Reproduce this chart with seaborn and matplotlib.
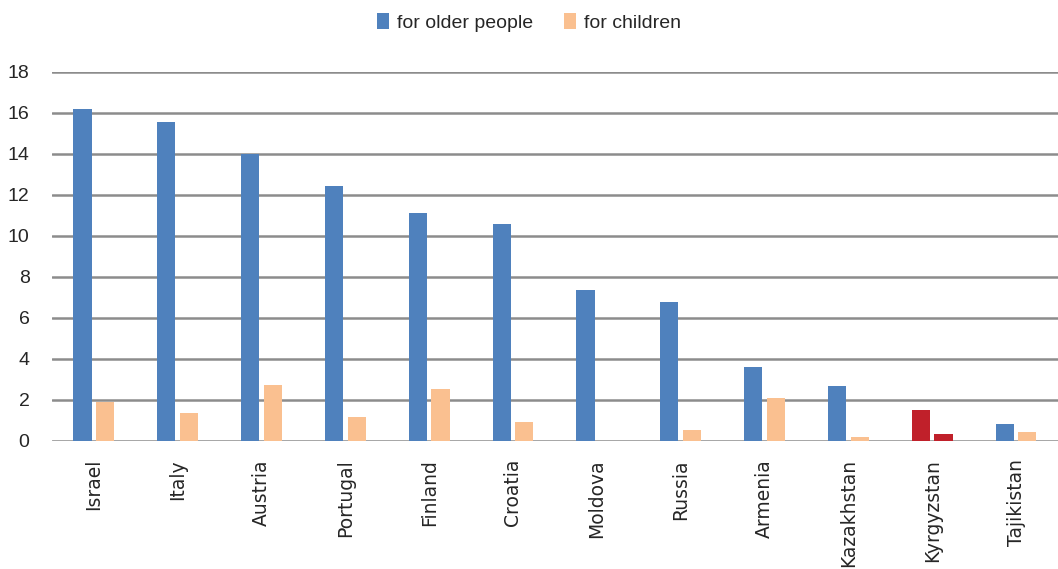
import pandas as pd
import numpy as np
from matplotlib import pyplot as plt
import seaborn as sns

countries = ["Israel", "Italy", "Austria", "Portugal", "Finland", "Croatia",
             "Moldova", "Russia", "Armenia", "Kazakhstan", "Kyrgyzstan", "Tajikistan"]
older_people = [16.2, 15.56, 14.0, 12.45, 11.11, 10.58, 7.37, 6.78, 3.62, 2.67, 1.5, 0.83]
children = [1.89, 1.35, 2.72, 1.16, 2.53, 0.95, np.nan, 0.52, 2.1, 0.18, 0.33, 0.42]
series_names = ["for older people", "for children"]
highlight = "Kyrgyzstan"

df = pd.DataFrame({
    "country": countries * 2,
    "series": [series_names[0]] * len(countries) + [series_names[1]] * len(countries),
    "value": older_people + children,
})

sns.set_style("white")
plt.rcParams['font.family'] = ['Liberation Sans', 'DejaVu Sans']

fig = plt.figure(figsize=(10.58, 5.69), dpi=100)
ax = fig.add_axes([0.049, 0.225, 0.951, 0.6485])

palette = {series_names[0]: "#4F81BD", series_names[1]: "#FAC090"}
sns.barplot(data=df, x="country", y="value", hue="series", order=countries,
            hue_order=series_names, palette=palette, width=0.54, gap=0.2,
            linewidth=0, saturation=1, ax=ax, zorder=3)

# Kyrgyzstan bars drawn in red
hi = countries.index(highlight)
for p in ax.patches:
    cx = p.get_x() + p.get_width() / 2
    if abs(cx - hi) < 0.4 and p.get_height() > 0:
        p.set_facecolor("#C0202A")

ax.set_ylim(0, 18)
ax.set_xlim(-0.5, len(countries) - 0.5)
ax.set_yticks(range(0, 19, 2))
ax.yaxis.grid(True, color="#8C8C8C", linewidth=1.8)
ax.set_axisbelow(True)
for s in ax.spines.values():
    s.set_visible(False)
ax.set_xlabel("")
ax.set_ylabel("")
ax.tick_params(axis="y", length=0, pad=16, labelsize=14)
ax.tick_params(axis="x", length=0, pad=13)
for lbl in ax.get_xticklabels():
    lbl.set_rotation(90)
    lbl.set_fontfamily("DejaVu Sans")
    lbl.set_fontsize(13.5)
    lbl.set_va("top")

handles, labels = ax.get_legend_handles_labels()
ax.legend(handles, labels, loc="center", bbox_to_anchor=(0.5, 0.961), bbox_transform=fig.transFigure,
          ncol=2, frameon=False, fontsize=14, handlelength=0.6, handleheight=0.9,
          handletextpad=0.4, columnspacing=1.6)

fig.savefig("out.png", dpi=100)
